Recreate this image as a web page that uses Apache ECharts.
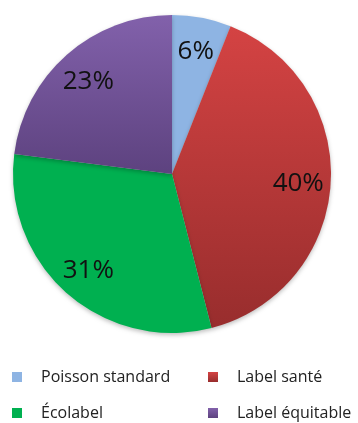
<!DOCTYPE html>
<html>
<head>
<meta charset="utf-8">
<script src="https://cdn.jsdelivr.net/npm/echarts@6/dist/echarts.min.js"></script>
<style>html,body{margin:0;padding:0;background:#fff}#c{width:358px;height:423px}</style>
</head>
<body>
<div id="c"></div>
<script>
var categories = ['Poisson standard', 'Label santé', 'Écolabel', 'Label équitable'];
var values = [6, 40, 31, 23];
var legendCol1 = ['Poisson standard', 'Écolabel'];
var legendCol2 = ['Label santé', 'Label équitable'];

var fills = [
  '#8EB4E3',
  new echarts.graphic.LinearGradient(0, 0, 0, 1, [{offset: 0, color: '#D44343'}, {offset: 1, color: '#982D2D'}]),
  '#00B050',
  new echarts.graphic.LinearGradient(0, 0, 0, 1, [{offset: 0, color: '#8261AB'}, {offset: 1, color: '#5D427F'}])
];
var legendColors = ['#8EB4E3', '#C0393A', '#00B050', '#7052A0'];

var mainData = categories.map(function (n, i) {
  return { name: n, value: values[i], itemStyle: { color: fills[i] } };
});
var labelData = categories.map(function (n, i) {
  return { name: n, value: values[i] };
});

var chart = echarts.init(document.getElementById('c'), null, { renderer: 'canvas' });
var legendBase = {
  orient: 'vertical',
  top: 368,
  padding: 0,
  itemWidth: 10,
  itemHeight: 10,
  itemGap: 18,
  icon: 'rect',
  selectedMode: false,
  textStyle: { fontFamily: 'Open Sans', fontSize: 16, color: '#222', lineHeight: 18, padding: [0, 0, 0, 14] }
};
chart.setOption({
  animation: false,
  color: legendColors,
  legend: [
    Object.assign({}, legendBase, { left: 12, data: legendCol1 }),
    Object.assign({}, legendBase, { left: 208, data: legendCol2 })
  ],
  series: [
    {
      type: 'pie',
      center: [172, 174],
      radius: [0, 159],
      startAngle: 90,
      clockwise: true,
      silent: true,
      label: { show: false },
      labelLine: { show: false },
      itemStyle: { borderWidth: 0, shadowBlur: 4, shadowOffsetY: 2, shadowColor: 'rgba(0,0,0,0.25)' },
      data: mainData
    },
    {
      type: 'pie',
      center: [172, 176],
      radius: [88, 159],
      startAngle: 90,
      clockwise: true,
      silent: true,
      itemStyle: { color: 'rgba(0,0,0,0)', borderWidth: 0 },
      label: {
        show: true,
        position: 'inside',
        formatter: '{c}%',
        fontFamily: 'Open Sans',
        fontSize: 26,
        color: '#111'
      },
      labelLine: { show: false },
      data: labelData
    }
  ]
});
</script>
</body>
</html>
